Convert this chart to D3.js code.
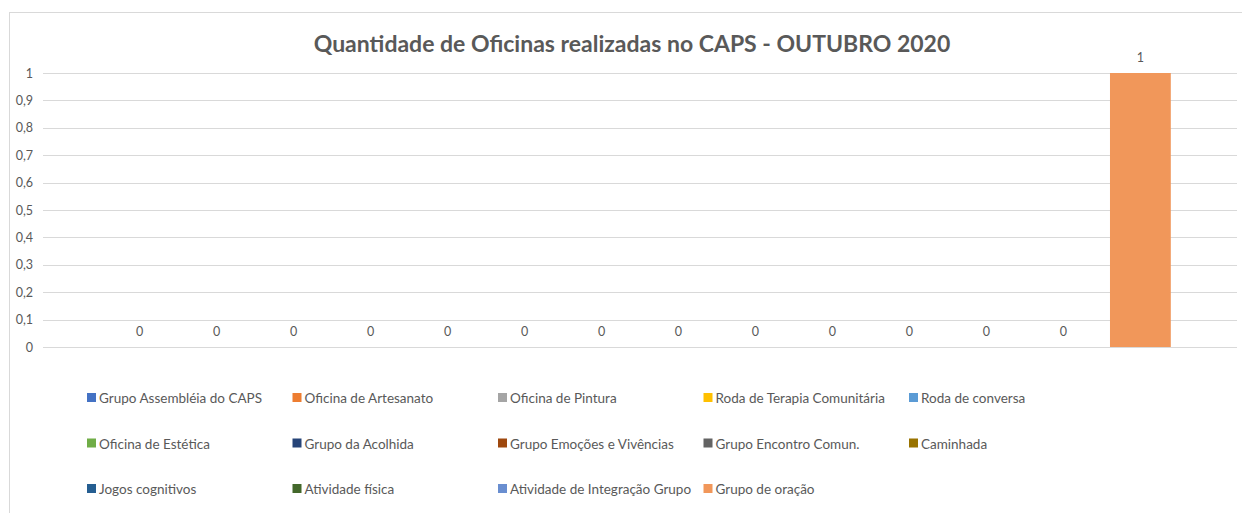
<!DOCTYPE html>
<meta charset="utf-8">
<script src="https://d3js.org/d3.v7.min.js"></script>
<style>
body { margin: 0; background: #fff; }
text { font-family: Lato, "Noto Sans", sans-serif; fill: #595959; }
.title { font-size: 23px; font-weight: bold; }
.tick text { font-size: 12.5px; }
.lbl { font-size: 12.5px; }
.legend text { font-size: 13.5px; }
</style>
<div id="chart"></div>
<script>
// data
var series = ["Grupo Assembléia do CAPS", "Oficina de Artesanato", "Oficina de Pintura",
  "Roda de Terapia Comunitária", "Roda de conversa", "Oficina de Estética", "Grupo da Acolhida",
  "Grupo Emoções e Vivências", "Grupo Encontro Comun.", "Caminhada", "Jogos cognitivos",
  "Atividade física", "Atividade de Integração Grupo", "Grupo de oração"];
var values = [0, 0, 0, 0, 0, 0, 0, 0, 0, 0, 0, 0, 0, 1];
var colors = ["#4472C4", "#ED7D31", "#A5A5A5", "#FFC000", "#5B9BD5", "#70AD47", "#264478",
  "#9E480E", "#636363", "#997300", "#255E91", "#43682B", "#698ED0", "#F1975A"];
var yTicks = [0, 0.1, 0.2, 0.3, 0.4, 0.5, 0.6, 0.7, 0.8, 0.9, 1];

var W = 1242, H = 513;
var svg = d3.select("#chart").append("svg").attr("width", W).attr("height", H);

// chart area frame
svg.append("rect").attr("x", 9.5).attr("y", 12.5).attr("width", 1300).attr("height", 600)
  .attr("fill", "none").attr("stroke", "#d9d9d9");

svg.append("text").attr("class", "title").attr("x", 632).attr("y", 52)
  .attr("text-anchor", "middle").text("Quantidade de Oficinas realizadas no CAPS - OUTUBRO 2020");

var x = d3.scaleBand().domain(series).range([43, 1237]).paddingInner(0.21).paddingOuter(0.86);
var y = d3.scaleLinear().domain([0, 1]).range([347, 73]);

var br = d3.formatLocale({decimal: ",", thousands: ".", grouping: [3], currency: ["R$", ""]});
var fmt = function(d) { return d === 0 || d === 1 ? d : br.format(".1f")(d); };

// gridlines
svg.append("g").selectAll("line").data(yTicks).enter().append("line")
  .attr("x1", 43).attr("x2", 1237)
  .attr("y1", function(d) { return Math.round(y(d)) + 0.5; })
  .attr("y2", function(d) { return Math.round(y(d)) + 0.5; })
  .attr("stroke", "#d9d9d9").attr("stroke-width", 1);

var yAxis = svg.append("g").attr("transform", "translate(43,0)")
  .call(d3.axisLeft(y).tickValues(yTicks).tickFormat(fmt).tickSize(0).tickPadding(10));
yAxis.select(".domain").remove();

// bars
svg.append("g").selectAll("rect").data(values).enter().append("rect")
  .attr("x", function(d, i) { return x(series[i]); })
  .attr("y", function(d) { return y(d); })
  .attr("width", x.bandwidth())
  .attr("height", function(d) { return y(0) - y(d); })
  .attr("fill", function(d, i) { return colors[i]; });

// value labels
svg.append("g").selectAll("text").data(values).enter().append("text").attr("class", "lbl")
  .attr("x", function(d, i) { return x(series[i]) + x.bandwidth() / 2; })
  .attr("y", function(d) { return y(d) - 11; })
  .attr("text-anchor", "middle")
  .text(function(d) { return d; });

// legend, 5 columns
var lg = svg.append("g").attr("class", "legend").selectAll("g").data(series).enter().append("g")
  .attr("transform", function(d, i) { return "translate(" + (87 + (i % 5) * 205.5) + "," + (398 + Math.floor(i / 5) * 45.5) + ")"; });
lg.append("rect").attr("x", 0).attr("y", -5).attr("width", 9).attr("height", 9)
  .attr("fill", function(d, i) { return colors[i]; });
lg.append("text").attr("x", 12).attr("y", 5).text(function(d) { return d; });
</script>
